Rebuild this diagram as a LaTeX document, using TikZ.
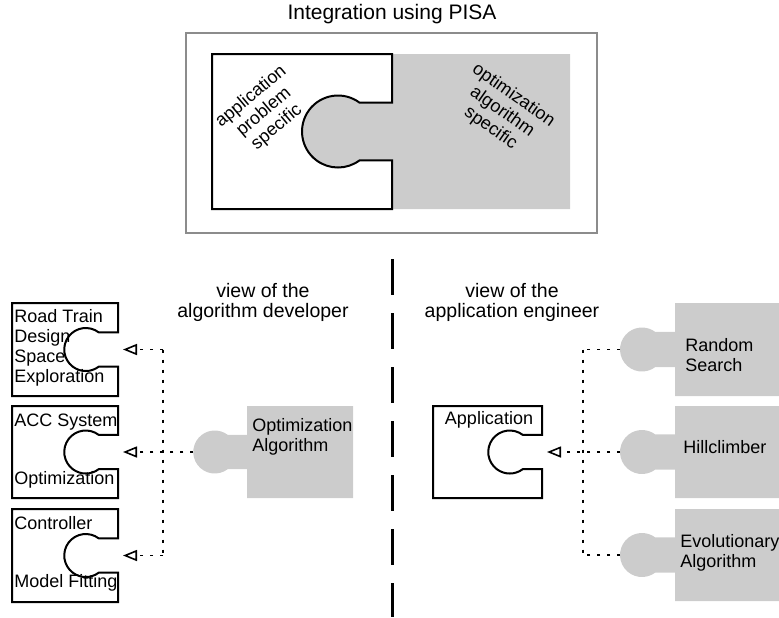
\documentclass[tikz,border=0pt]{standalone}
\usepackage{fontspec}
\setmainfont{Liberation Sans}
\usepackage{tikz}
\usetikzlibrary{arrows.meta}
\definecolor{piecegray}{HTML}{CCCCCC}
\definecolor{framegray}{HTML}{8C8C8C}
\newcommand{\socketpath}[6]{(#1,#2) -- (#3,#2) -- (#3,#5-0.8*#6) -- (#3-0.9*#6,#5-0.8*#6)
  arc[start angle=-53.13,end angle=-306.87,radius=#6] -- (#3,#5+0.8*#6) -- (#3,#4) -- (#1,#4) -- cycle}
\newcommand{\knobpath}[6]{(#3,#2) -- (#3,#4) -- (#1,#4) -- (#1,#5+0.8*#6) -- (#1-0.9*#6,#5+0.8*#6)
  arc[start angle=53.13,end angle=306.87,radius=#6] -- (#1,#5-0.8*#6) -- (#1,#2) -- cycle}

\begin{document}
\begin{tikzpicture}[x=0.5pt,y=-0.5pt,
  socket/.style={draw=black,fill=white,line width=1pt},
  knob/.style={fill=piecegray},
  boxtext/.style={font=\fontsize{9pt}{10pt}\selectfont,inner sep=0pt},
  viewtext/.style={font=\fontsize{9.75pt}{10pt}\selectfont,inner sep=0pt,align=center},
  bus/.style={line width=0.8pt,dash pattern=on 1.5pt off 3.5pt},
  link/.style={bus,-{Triangle[open,length=7pt,width=5.5pt,line width=0.8pt]},shorten >=2.5pt}]
  \useasboundingbox (0,0) rectangle (779,617);
  \node[font=\fontsize{10.5pt}{12pt}\selectfont,inner sep=0pt] (title) at (392,14) {Integration using PISA};
  \draw[framegray,line width=0.75pt] (186,33) rectangle (597,233);
  \fill[knob] \knobpath{392}{54}{570}{209}{131.5}{36};
  \draw[socket] \socketpath{212}{54}{392}{209}{131.5}{36};
  \node[boxtext,rotate=40,align=center] (appspec) at (264,112) {application\\problem\\specific};
  \node[boxtext,rotate=-35,align=center] (optspec) at (502,112) {optimization\\algorithm\\specific};
  \draw[line width=1.5pt,dash pattern=on 18pt off 9pt] (392,259) -- (392,617);
  \node[viewtext] (devview) at (263,302) {view of the\\algorithm developer};
  \node[viewtext] (engview) at (512,302) {view of the\\application engineer};

  \draw[socket] \socketpath{12}{303}{118}{396}{349.5}{21.5};
  \draw[socket] \socketpath{12}{406}{118}{498}{452}{21.5};
  \draw[socket] \socketpath{12}{509}{118}{602}{555.5}{21.5};
  \node[boxtext,anchor=west,align=left] (rtdse) at (14,348) {Road Train\\Design\\Space\\Exploration};
  \node[boxtext,anchor=west] (acc) at (14,422) {ACC System};
  \node[boxtext,anchor=west] (accopt) at (14,480) {Optimization};
  \node[boxtext,anchor=west] (ctrl) at (14,523) {Controller};
  \node[boxtext,anchor=west] (ctrlfit) at (14,583) {Model Fitting};
  \coordinate (rtsock) at (118,349.5);
  \coordinate (accsock) at (118,452);
  \coordinate (ctrlsock) at (118,555.5);
  \coordinate (devtop) at (163,349.5);
  \coordinate (devbot) at (163,555.5);
  \fill[knob] \knobpath{247}{406}{353}{498}{452}{21.5};
  \node[boxtext,anchor=west,align=left] (optalg) at (252,437) {Optimization\\Algorithm};
  \coordinate (optknob) at (193.25,452);
  \draw[bus] (devtop) -- (devbot);
  \draw[link] (devtop) -- (rtsock);
  \draw[link] (optknob) -- (accsock);
  \draw[link] (devbot) -- (ctrlsock);

  \draw[socket] \socketpath{433}{406}{542}{498}{452}{21.5};
  \node[boxtext] (app) at (489,420) {Application};
  \coordinate (appsock) at (542,452);
  \fill[knob] \knobpath{675}{303}{779}{396}{349.5}{22};
  \fill[knob] \knobpath{675}{406}{779}{498}{452}{22};
  \fill[knob] \knobpath{675}{509}{779}{601}{555}{22};
  \node[boxtext,anchor=west,align=left] (rs) at (685,355) {Random\\Search};
  \node[boxtext,anchor=west] (hc) at (683,447) {Hillclimber};
  \node[boxtext,anchor=west,align=left] (ea) at (680,553) {Evolutionary\\Algorithm};
  \coordinate (rsknob) at (620,349.5);
  \coordinate (hcknob) at (620,452);
  \coordinate (eaknob) at (620,555);
  \coordinate (engtop) at (583,349.5);
  \coordinate (engbot) at (583,555);
  \draw[bus] (engtop) -- (engbot);
  \draw[bus] (rsknob) -- (engtop);
  \draw[bus] (eaknob) -- (engbot);
  \draw[link] (hcknob) -- (appsock);
\end{tikzpicture}
\end{document}
